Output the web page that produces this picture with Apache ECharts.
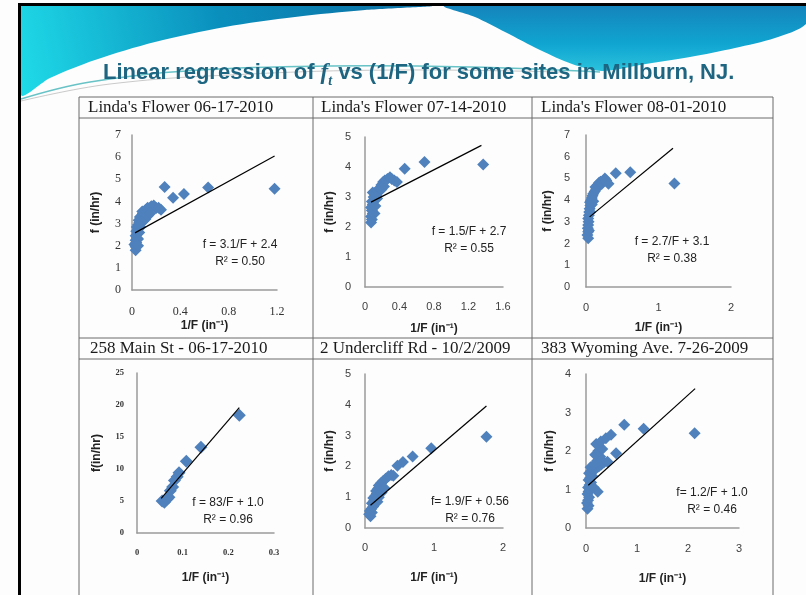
<!DOCTYPE html>
<html>
<head>
<meta charset="utf-8">
<script src="https://cdn.jsdelivr.net/npm/echarts@6/dist/echarts.min.js"></script>
<style>
  html, body { margin: 0; padding: 0; background: #fff; }
  #chart { width: 806px; height: 595px; }
</style>
</head>
<body>
<div id="chart"></div>
<script>
// data: [1/F, f]
var pts1 = [[0.03,1.8],[0.03,1.95],[0.02,2.05],[0.035,2.15],[0.03,2.25],[0.04,2.35],[0.03,2.45],[0.045,2.55],[0.035,2.65],[0.05,2.75],[0.04,2.85],[0.05,2.95],[0.06,3.05],[0.055,3.15],[0.07,3.2],[0.065,3.3],[0.08,3.35],[0.09,3.45],[0.085,3.55],[0.1,3.5],[0.11,3.6],[0.12,3.65],[0.13,3.72],[0.15,3.7],[0.16,3.78],[0.18,3.82],[0.2,3.7],[0.22,3.72],[0.24,3.62],[0.09,3.1],[0.11,3.2],[0.13,3.35],[0.15,3.45],[0.06,2.6],[0.07,2.85],[0.05,2.3],[0.05,2.0],[0.27,4.65],[0.34,4.17],[0.43,4.33],[0.63,4.63],[1.18,4.57]];
var pts2 = [[0.07,2.15],[0.08,2.25],[0.07,2.35],[0.09,2.45],[0.08,2.55],[0.11,2.45],[0.07,2.65],[0.09,2.75],[0.08,2.85],[0.11,2.9],[0.1,3.0],[0.13,3.05],[0.12,3.15],[0.09,3.15],[0.15,3.2],[0.17,3.3],[0.19,3.4],[0.21,3.5],[0.23,3.55],[0.26,3.6],[0.29,3.66],[0.31,3.6],[0.34,3.55],[0.37,3.5],[0.19,3.25],[0.22,3.35],[0.14,2.95],[0.12,2.7],[0.46,3.94],[0.69,4.17],[1.37,4.08]];
var pts3 = [[0.03,2.25],[0.02,2.4],[0.03,2.55],[0.025,2.7],[0.03,2.85],[0.035,3.0],[0.03,3.15],[0.04,3.3],[0.045,3.45],[0.05,3.6],[0.06,3.75],[0.055,3.9],[0.07,4.0],[0.08,4.1],[0.09,4.2],[0.1,4.3],[0.12,4.4],[0.14,4.5],[0.13,4.6],[0.16,4.7],[0.18,4.8],[0.2,4.85],[0.22,4.75],[0.24,4.9],[0.26,5.0],[0.28,4.9],[0.31,4.75],[0.08,3.8],[0.1,3.95],[0.06,3.45],[0.04,2.6],[0.41,5.24],[0.61,5.28],[1.22,4.77]];
var pts4 = [[0.055,5.0],[0.06,4.8],[0.066,5.3],[0.07,5.6],[0.073,6.6],[0.078,7.2],[0.082,8.2],[0.088,8.8],[0.092,9.4],[0.108,11.2],[0.14,13.4],[0.224,18.4]];
var pts5 = [[0.08,0.38],[0.06,0.45],[0.1,0.5],[0.07,0.55],[0.09,0.62],[0.12,0.7],[0.1,0.8],[0.13,0.88],[0.12,0.97],[0.15,1.05],[0.17,1.12],[0.16,1.2],[0.19,1.28],[0.2,1.38],[0.23,1.45],[0.26,1.52],[0.3,1.6],[0.34,1.68],[0.38,1.72],[0.41,1.7],[0.2,1.0],[0.24,1.15],[0.28,1.3],[0.18,0.85],[0.47,2.02],[0.55,2.14],[0.69,2.32],[0.96,2.59],[1.76,2.96]];
var pts6 = [[0.03,0.5],[0.05,0.58],[0.02,0.65],[0.04,0.72],[0.06,0.8],[0.03,0.88],[0.05,0.95],[0.08,1.0],[0.04,1.05],[0.07,1.12],[0.1,1.18],[0.05,1.25],[0.08,1.3],[0.12,1.35],[0.06,1.42],[0.1,1.48],[0.15,1.5],[0.09,1.58],[0.2,1.55],[0.25,1.6],[0.3,1.65],[0.35,1.7],[0.42,1.72],[0.16,1.65],[0.22,1.75],[0.28,1.85],[0.18,1.9],[0.24,2.0],[0.32,2.05],[0.2,2.18],[0.29,2.25],[0.39,2.33],[0.49,2.42],[0.23,0.94],[0.15,1.05],[0.59,1.94],[0.75,2.68],[1.13,2.58],[2.13,2.46]];

// regression line end points
var fit1 = [[0.025,2.58],[1.18,6.05]];
var fit2 = [[0.07,2.83],[1.35,4.72]];
var fit3 = [[0.05,3.23],[1.2,6.39]];
var fit4 = [[0.053,5.4],[0.224,19.6]];
var fit5 = [[0.08,0.74],[1.76,3.96]];
var fit6 = [[0.045,1.11],[2.14,3.62]];

var siteNames = ["Linda's Flower 06-17-2010", "Linda's Flower 07-14-2010", "Linda's Flower 08-01-2010",
  "258 Main St - 06-17-2010", "2 Undercliff Rd - 10/2/2009", "383 Wyoming Ave. 7-26-2009"];
var equations = ['f = 3.1/F + 2.4', 'f = 1.5/F + 2.7', 'f = 2.7/F + 3.1', 'f = 83/F + 1.0', 'f= 1.9/F + 0.56', 'f= 1.2/F + 1.0'];
var rSquared = ['R\u00b2 = 0.50', 'R\u00b2 = 0.55', 'R\u00b2 = 0.38', 'R\u00b2 = 0.96', 'R\u00b2 = 0.76', 'R\u00b2 = 0.46'];
var xMax = [1.2, 1.6, 2, 0.3, 2, 3];
var xStep = [0.4, 0.4, 1, 0.1, 1, 1];
var yMax = [7, 5, 7, 25, 5, 4];
var yStep = [1, 1, 1, 5, 1, 1];
var yNames = ['f (in/hr)', 'f (in/hr)', 'f (in/hr)', 'f(in/hr)', 'f (in/hr)', 'f (in/hr)'];

var pts = [pts1, pts2, pts3, pts4, pts5, pts6];
var fits = [fit1, fit2, fit3, fit4, fit5, fit6];

// layout
var grids = [
  { left: 132, top: 135, width: 145, height: 155 },
  { left: 365, top: 137, width: 138, height: 150 },
  { left: 586, top: 135, width: 145, height: 152 },
  { left: 137, top: 373, width: 137, height: 160 },
  { left: 365, top: 374, width: 138, height: 154 },
  { left: 586, top: 374, width: 153, height: 154 }
];
var xNameGap = [30, 36, 35, 39, 44, 45];
var yNameGap = [30, 29, 32, 34, 29, 30];
var xLabelMargin = [16, 14, 15, 15, 14, 15];
var yLabelMargin = [11, 14, 16, 13, 14, 15];
var eqPos = [[240, 245], [469, 232], [672, 242], [228, 503], [470, 502], [712, 493]];
var titlePos = [[88, 108], [321, 108], [541, 108], [90, 349], [320, 349], [541, 349]];

var sans = '"Liberation Sans", Arial, sans-serif';
var serif = '"Liberation Serif", "Times New Roman", serif';

function labelStyle(i) {
  if (i === 0) return { fontFamily: serif, fontSize: 12, color: '#333' };
  if (i === 3) return { fontFamily: serif, fontSize: 8.5, fontWeight: 'bold', color: '#333' };
  return { fontFamily: sans, fontSize: 11, color: '#404040' };
}

var axisLine = { show: true, onZero: false, lineStyle: { color: '#9a9a9a', width: 1.5 } };
var nameStyle = { fontFamily: sans, fontSize: 12, fontWeight: 'bold', color: '#222' };

var xAxes = [], yAxes = [], series = [], graphics = [];

// page decoration
graphics.push({ type: 'rect', shape: { x: 0, y: 0, width: 806, height: 595 }, style: { fill: '#fdfdfd' } });
graphics.push({
  type: 'polygon',
  shape: { points: [[21,6],[430,6],[365,10],[295,17],[225,27],[155,42],[95,60],[50,78],[21,95],[21,6]], smooth: 0.3, smoothConstraint: [[21,6],[806,100]] },
  style: { fill: new echarts.graphic.LinearGradient(1, 0, 0, 1, [
    { offset: 0, color: '#0c6ea2' }, { offset: 0.5, color: '#0a8fbd' }, { offset: 1, color: '#1fdbe8' }]) }
});
graphics.push({
  type: 'polygon',
  shape: { points: [[445,6],[806,6],[806,24],[775,38],[735,48],[690,57],[640,65],[602,71],[572,64],[540,50],[505,32],[475,17]], smooth: 0.3, smoothConstraint: [[21,6],[806,100]] },
  style: { fill: new echarts.graphic.LinearGradient(0, 0, 0, 1, [
    { offset: 0, color: '#1484bc' }, { offset: 0.6, color: '#10a6d2' }, { offset: 1, color: '#2ac2dc' }]) }
});
graphics.push({
  type: 'polyline',
  shape: { points: [[21,99],[90,82],[200,70],[330,66],[470,67],[600,72]], smooth: 0.4 },
  style: { stroke: 'rgba(40,170,175,0.7)', lineWidth: 1.5, fill: null }
});
graphics.push({
  type: 'polyline',
  shape: { points: [[21,101],[110,84],[250,74],[400,70],[560,72]], smooth: 0.4 },
  style: { stroke: 'rgba(150,150,150,0.5)', lineWidth: 1, fill: null }
});
graphics.push({ type: 'rect', shape: { x: 18, y: 3, width: 788, height: 3 }, style: { fill: '#000' } });
graphics.push({ type: 'rect', shape: { x: 18, y: 3, width: 3, height: 592 }, style: { fill: '#000' } });

// table
var rowLines = [97, 118, 338, 359];
var colLines = [79, 313, 532, 773];
rowLines.forEach(function (y) {
  graphics.push({ type: 'line', shape: { x1: 79, y1: y, x2: 773, y2: y }, style: { stroke: '#6a6a6a', lineWidth: 1 } });
});
colLines.forEach(function (x) {
  graphics.push({ type: 'line', shape: { x1: x, y1: 97, x2: x, y2: 595 }, style: { stroke: '#6a6a6a', lineWidth: 1 } });
});

for (var i = 0; i < 6; i++) {
  xAxes.push({
    type: 'value', gridIndex: i, min: 0, max: xMax[i], interval: xStep[i],
    axisLine: axisLine, axisTick: { show: false }, splitLine: { show: false },
    axisLabel: Object.assign({ margin: xLabelMargin[i] }, labelStyle(i)),
    name: '1/F (in\u207b\u00b9)', nameLocation: 'middle', nameGap: xNameGap[i], nameTextStyle: nameStyle
  });
  yAxes.push({
    type: 'value', gridIndex: i, min: 0, max: yMax[i], interval: yStep[i],
    axisLine: axisLine, axisTick: { show: false }, splitLine: { show: false },
    axisLabel: Object.assign({ margin: yLabelMargin[i] }, labelStyle(i)),
    name: yNames[i], nameLocation: 'middle', nameGap: yNameGap[i], nameRotate: 90, nameTextStyle: nameStyle
  });
  series.push({
    type: 'scatter', xAxisIndex: i, yAxisIndex: i, data: pts[i],
    symbol: 'diamond', symbolSize: i === 3 ? 13 : 12,
    itemStyle: { color: '#4f81bd', opacity: 1 }, silent: true, z: 2
  });
  series.push({
    type: 'line', xAxisIndex: i, yAxisIndex: i, data: fits[i],
    symbol: 'none', lineStyle: { color: '#000', width: 1.2 }, silent: true, z: 3
  });
  graphics.push({
    type: 'text', z: 10,
    style: { text: siteNames[i], x: titlePos[i][0], y: titlePos[i][1], font: '17px ' + serif,
      fill: '#1a1a1a', textAlign: 'left', align: 'left', textVerticalAlign: 'middle', verticalAlign: 'middle' }
  });
  graphics.push({
    type: 'text', z: 10,
    style: { text: equations[i], x: eqPos[i][0], y: eqPos[i][1], font: '12px ' + sans,
      fill: '#222', textAlign: 'center', align: 'center', textVerticalAlign: 'middle', verticalAlign: 'middle' }
  });
  graphics.push({
    type: 'text', z: 10,
    style: { text: rSquared[i], x: eqPos[i][0], y: eqPos[i][1] + 17, font: '12px ' + sans,
      fill: '#222', textAlign: 'center', align: 'center', textVerticalAlign: 'middle', verticalAlign: 'middle' }
  });
}

var chart = echarts.init(document.getElementById('chart'), null, { renderer: 'canvas' });
chart.setOption({
  animation: false,
  backgroundColor: '#fdfdfd',
  title: {
    text: '{a|Linear regression of }{f|f}{t|t}{a| vs (1/F) for some sites in Millburn, NJ.}',
    left: 98, top: 53,
    textStyle: {
      rich: {
        a: { fontFamily: '"Liberation Sans", sans-serif', fontWeight: 'bold', fontSize: 22, color: '#1d6580', lineHeight: 30 },
        f: { fontFamily: '"Liberation Serif", serif', fontStyle: 'italic', fontWeight: 'bold', fontSize: 23, color: '#1d6580', lineHeight: 30 },
        t: { fontFamily: '"Liberation Serif", serif', fontStyle: 'italic', fontWeight: 'bold', fontSize: 14, color: '#1d6580', lineHeight: 30, verticalAlign: 'bottom' }
      }
    }
  },
  grid: grids,
  xAxis: xAxes,
  yAxis: yAxes,
  series: series,
  graphic: { elements: graphics }
});
</script>
</body>
</html>
